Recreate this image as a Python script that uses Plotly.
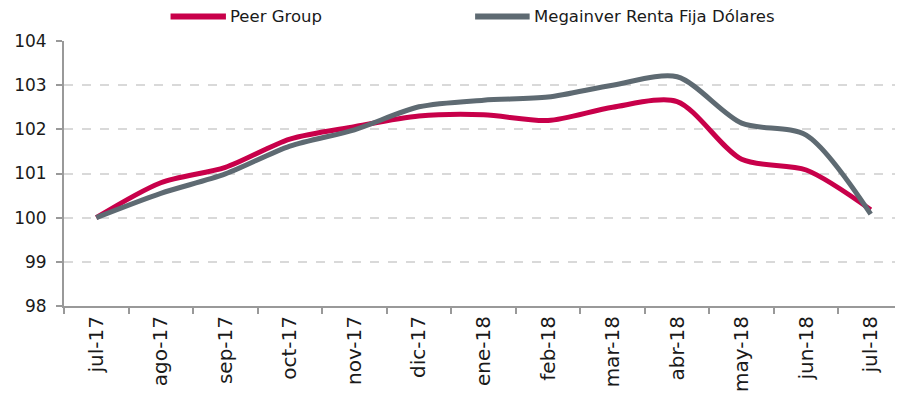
import plotly.graph_objects as go

months = ["jul-17", "ago-17", "sep-17", "oct-17", "nov-17", "dic-17", "ene-18",
          "feb-18", "mar-18", "abr-18", "may-18", "jun-18", "jul-18"]
peer_group = [100.0, 100.79, 101.14, 101.78, 102.06, 102.3, 102.33,
              102.2, 102.5, 102.63, 101.32, 101.08, 100.18]
megainver = [100.0, 100.55, 100.99, 101.62, 101.99, 102.51, 102.66,
             102.73, 103.0, 103.19, 102.14, 101.87, 100.08]
series_names = ["Peer Group", "Megainver Renta Fija Dólares"]

RED = "#C8004A"
GRAY = "#5E6A72"
FONT = "DejaVu Sans"
TEXT = "#1a1a1a"

fig = go.Figure()

fig.add_trace(go.Scatter(
    x=months, y=peer_group, name=series_names[0], mode="lines",
    line=dict(color=RED, width=5, shape="spline", smoothing=0.8),
))
fig.add_trace(go.Scatter(
    x=months, y=megainver, name=series_names[1], mode="lines",
    line=dict(color=GRAY, width=5, shape="spline", smoothing=0.8),
))

# legend drawn by hand so the swatches are as long as in the original
legend_y = 1.092
for name, color, x0, x1 in [(series_names[0], RED, 0.127, 0.193),
                            (series_names[1], GRAY, 0.490, 0.555)]:
    fig.add_shape(type="line", xref="paper", yref="paper",
                  x0=x0, x1=x1, y0=legend_y, y1=legend_y,
                  line=dict(color=color, width=6))
    fig.add_annotation(xref="paper", yref="paper", x=x1 + 0.003, y=legend_y,
                       text=name, showarrow=False, xanchor="left", yanchor="middle",
                       font=dict(family=FONT, size=16.5, color=TEXT))

# page body has an 8px margin, so the figure is 8px smaller than the window
fig.update_layout(
    width=895, height=392,
    paper_bgcolor="white", plot_bgcolor="white",
    margin=dict(l=56, r=0, t=33, b=94, autoexpand=False),
    font=dict(family=FONT, size=15, color=TEXT),
    showlegend=False,
)

fig.update_xaxes(
    type="category", range=[-0.5, 12.5], automargin=False,
    showline=True, linecolor="#999999", linewidth=2,
    ticks="outside", tickson="boundaries", ticklen=6, tickcolor="#999999", tickwidth=2,
    tickangle=-90, tickfont=dict(family=FONT, size=20, color=TEXT),
    showgrid=False, zeroline=False,
)
fig.update_yaxes(
    range=[98, 104], dtick=1, automargin=False,
    showline=True, linecolor="#999999", linewidth=2,
    ticks="outside", ticklen=6, tickcolor="#999999", tickwidth=2,
    tickfont=dict(family=FONT, size=17, color=TEXT),
    ticklabelstandoff=6,
    showgrid=True, gridcolor="#d9d9d9", griddash="dash", gridwidth=1.5,
    zeroline=False,
)

fig.write_html("out.html")
